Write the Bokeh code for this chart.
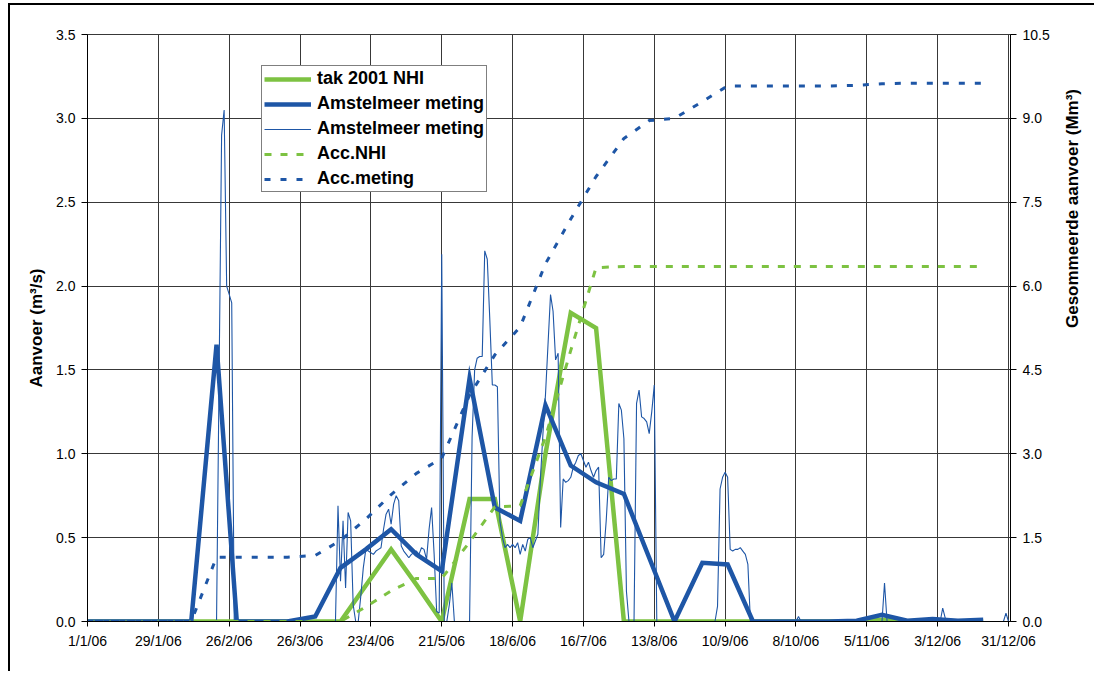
import math
import pandas as pd
from bokeh.plotting import figure
from bokeh.models import (Range1d, LinearAxis, FixedTicker, NumeralTickFormatter,
                          Legend, LegendItem)
from bokeh.embed import file_html
from bokeh.resources import INLINE

# ---------------- data ----------------
DEC_DATES = ["2006-01-01", "2006-01-11", "2006-01-21", "2006-02-01", "2006-02-11", "2006-02-21",
             "2006-03-01", "2006-03-11", "2006-03-21", "2006-04-01", "2006-04-11", "2006-04-21",
             "2006-05-01", "2006-05-11", "2006-05-21", "2006-06-01", "2006-06-11", "2006-06-21",
             "2006-07-01", "2006-07-11", "2006-07-21", "2006-08-01", "2006-08-11", "2006-08-21",
             "2006-09-01", "2006-09-11", "2006-09-21", "2006-10-01", "2006-10-11", "2006-10-21",
             "2006-11-01", "2006-11-11", "2006-11-21", "2006-12-01", "2006-12-11", "2006-12-21"]

# tak 2001 NHI (m3/s)
NHI = [0, 0, 0, 0, 0, 0,
       0, 0, 0, 0, 0, 0.215,
       0.43, 0.22, 0, 0.73, 0.73, 0,
       1.0, 1.84, 1.75, 0, 0, 0,
       0, 0, 0, 0, 0, 0,
       0, 0.01, 0, 0, 0, 0]

# Amstelmeer meting, decade values (m3/s)
MET = [0, 0, 0, 0, 0, 1.65,
       0, 0, 0, 0.03, 0.32, 0.43,
       0.55, 0.40, 0.30, 1.45, 0.68, 0.60,
       1.29, 0.93, 0.83, 0.76, 0.38, 0,
       0.35, 0.34, 0, 0, 0, 0,
       0.005, 0.04, 0.005, 0.015, 0.005, 0.01]

# Acc.NHI (Mm3)
ACC_NHI = [0, 0, 0, 0, 0, 0,
           0, 0, 0, 0, 0, 0.26,
           0.55, 0.77, 0.77, 1.42, 2.05, 2.07,
           3.3, 4.85, 6.33, 6.35, 6.35, 6.35,
           6.35, 6.35, 6.35, 6.35, 6.35, 6.35,
           6.35, 6.35, 6.35, 6.35, 6.35, 6.35]

# Acc.meting (Mm3)
ACC_MET = [0, 0, 0, 0, 0, 1.15,
           1.15, 1.15, 1.15, 1.18, 1.45, 1.83,
           2.27, 2.65, 2.92, 4.05, 4.77, 5.27,
           6.4, 7.2, 7.96, 8.64, 8.96, 9.0,
           9.3, 9.58, 9.58, 9.58, 9.58, 9.58,
           9.59, 9.62, 9.63, 9.63, 9.63, 9.63]

# Amstelmeer meting, daily values (m3/s)
THIN_DATES = ["2006-01-01", "2006-02-21", "2006-02-22", "2006-02-23", "2006-02-24", "2006-02-25",
              "2006-02-26", "2006-02-27", "2006-02-28", "2006-04-09", "2006-04-10", "2006-04-11",
              "2006-04-12", "2006-04-13", "2006-04-14", "2006-04-15", "2006-04-16", "2006-04-17",
              "2006-04-18", "2006-04-19", "2006-04-20", "2006-04-21", "2006-04-22", "2006-04-23",
              "2006-04-24", "2006-04-25", "2006-04-26", "2006-04-27", "2006-04-28", "2006-04-29",
              "2006-04-30", "2006-05-01", "2006-05-02", "2006-05-03", "2006-05-04", "2006-05-05",
              "2006-05-06", "2006-05-07", "2006-05-08", "2006-05-09", "2006-05-10", "2006-05-11",
              "2006-05-12", "2006-05-13", "2006-05-14", "2006-05-15", "2006-05-16", "2006-05-17",
              "2006-05-18", "2006-05-19", "2006-05-20", "2006-05-21", "2006-05-22", "2006-05-23",
              "2006-05-24", "2006-05-25", "2006-05-26", "2006-06-01", "2006-06-02", "2006-06-03",
              "2006-06-04", "2006-06-05", "2006-06-06", "2006-06-07", "2006-06-08", "2006-06-09",
              "2006-06-10", "2006-06-11", "2006-06-12", "2006-06-13", "2006-06-14", "2006-06-15",
              "2006-06-16", "2006-06-17", "2006-06-18", "2006-06-19", "2006-06-20", "2006-06-21",
              "2006-06-22", "2006-06-23", "2006-06-24", "2006-06-25", "2006-06-26", "2006-06-27",
              "2006-06-28", "2006-06-29", "2006-06-30", "2006-07-01", "2006-07-02", "2006-07-03",
              "2006-07-04", "2006-07-05", "2006-07-06", "2006-07-07", "2006-07-08", "2006-07-09",
              "2006-07-10", "2006-07-11", "2006-07-12", "2006-07-13", "2006-07-14", "2006-07-15",
              "2006-07-16", "2006-07-17", "2006-07-18", "2006-07-19", "2006-07-20", "2006-07-21",
              "2006-07-22", "2006-07-23", "2006-07-24", "2006-07-25", "2006-07-26", "2006-07-27",
              "2006-07-28", "2006-07-29", "2006-07-30", "2006-07-31", "2006-08-01", "2006-08-02",
              "2006-08-03", "2006-08-05", "2006-08-06", "2006-08-07", "2006-08-08", "2006-08-09",
              "2006-08-10", "2006-08-11", "2006-08-12", "2006-08-13", "2006-08-14", "2006-09-06",
              "2006-09-07", "2006-09-08", "2006-09-09", "2006-09-10", "2006-09-11", "2006-09-12",
              "2006-09-13", "2006-09-14", "2006-09-15", "2006-09-16", "2006-09-17", "2006-09-18",
              "2006-09-19", "2006-09-20", "2006-10-08", "2006-10-09", "2006-10-10", "2006-11-11",
              "2006-11-12", "2006-11-13", "2006-12-04", "2006-12-05", "2006-12-06", "2006-12-07",
              "2006-12-29", "2006-12-30", "2006-12-31"]
THIN_VALUES = [0, 0, 1.45, 2.9, 3.05, 2.0,
               1.95, 1.9, 0, 0, 0.69, 0.24,
               0.60, 0.20, 0.65, 0.60, 0.10, 0,
               0, 0.15, 0.32, 0.43, 0.42, 0.41,
               0.40, 0.42, 0.43, 0.44, 0.55, 0.64,
               0.67, 0.58, 0.70, 0.75, 0.72, 0.45,
               0.42, 0.40, 0.38, 0.40, 0.41, 0.42,
               0.40, 0.44, 0.43, 0.37, 0.55, 0.68,
               0.40, 0.06, 0.05, 2.19, 0, 0,
               0.10, 0.23, 0, 0, 1.10, 1.50,
               1.57, 1.58, 1.58, 2.21, 2.16, 1.80,
               1.41, 1.41, 1.40, 0.60, 0.50, 0.44,
               0.46, 0.44, 0.46, 0.44, 0.47, 0.40,
               0.46, 0.42, 0.49, 0.50, 0.44, 0.48,
               0.52, 0.85, 1.12, 1.35, 1.65, 1.95,
               1.85, 1.56, 1.60, 0.56, 0.85, 0.83,
               0.84, 0.86, 0.92, 0.95, 0.99, 1.00,
               0.96, 0.92, 0.95, 0.90, 0.86, 0.90,
               0.92, 0.38, 0.40, 0.60, 0.86, 0.84,
               0.85, 0.85, 1.30, 1.26, 1.09, 0.18,
               0, 0, 1.30, 1.38, 1.22, 1.21,
               1.19, 1.12, 1.25, 1.41, 0, 0,
               0.09, 0.79, 0.86, 0.89, 0.86, 0.43,
               0.42, 0.43, 0.43, 0.44, 0.42, 0.40,
               0.34, 0, 0, 0.03, 0, 0,
               0.23, 0, 0, 0.08, 0.02, 0,
               0, 0.05, 0]

TICK_DATES = ["2006-01-01", "2006-01-29", "2006-02-26", "2006-03-26", "2006-04-23", "2006-05-21",
              "2006-06-18", "2006-07-16", "2006-08-13", "2006-09-10", "2006-10-08", "2006-11-05",
              "2006-12-03", "2006-12-31"]
TICK_LABELS = ["1/1/06", "29/1/06", "26/2/06", "26/3/06", "23/4/06", "21/5/06", "18/6/06",
               "16/7/06", "13/8/06", "10/9/06", "8/10/06", "5/11/06", "3/12/06", "31/12/06"]
LEFT_TICKS = [0, 0.5, 1.0, 1.5, 2.0, 2.5, 3.0, 3.5]
RIGHT_TICKS = [0, 1.5, 3.0, 4.5, 6.0, 7.5, 9.0, 10.5]

# ---------------- style ----------------
GREEN = "#7DC242"
BLUE = "#1E56A6"
GRID = "#383838"
FONT = "Liberation Sans"

dec_x = pd.to_datetime(DEC_DATES)
thin_x = pd.to_datetime(THIN_DATES)
tick_ms = [float(pd.Timestamp(d).value // 10**6) for d in TICK_DATES]

p = figure(width=1086, height=668, x_axis_type="datetime",
           x_range=Range1d(pd.Timestamp("2006-01-01"), pd.Timestamp("2006-12-31 19:00")),
           y_range=Range1d(0, 3.5),
           output_backend="svg", toolbar_location=None,
           min_border_left=77, min_border_right=86, min_border_top=29, min_border_bottom=52,
           margin=(3, 0, 0, 8),
           styles={"border-top": "2px solid black", "border-left": "2px solid black"})
p.outline_line_color = GRID
p.background_fill_color = "white"
p.border_fill_color = "white"
p.extra_y_ranges = {"acc": Range1d(0, 10.5)}

# x axis
xa = p.xaxis[0]
xa.ticker = FixedTicker(ticks=tick_ms)
xa.major_label_overrides = {t: l for t, l in zip(tick_ms, TICK_LABELS)}
xa.major_tick_out = 5
xa.major_tick_in = 0
xa.minor_tick_out = 0
xa.minor_tick_in = 0
xa.major_label_standoff = 6
xa.major_label_text_font = FONT
xa.major_label_text_font_size = "14px"
xa.major_label_text_color = "black"
xa.axis_line_color = "black"
xa.major_tick_line_color = "black"

# left axis
ya = p.yaxis[0]
ya.ticker = FixedTicker(ticks=LEFT_TICKS)
ya.formatter = NumeralTickFormatter(format="0.0")
ya.axis_label = "Aanvoer (m³/s)"
ya.axis_label_text_font = FONT
ya.axis_label_text_font_size = "17px"
ya.axis_label_text_font_style = "bold"
ya.axis_label_text_color = "black"
ya.axis_label_standoff = 7
ya.major_tick_out = 6
ya.major_tick_in = 0
ya.minor_tick_out = 0
ya.minor_tick_in = 0
ya.major_label_standoff = 6
ya.major_label_text_font = FONT
ya.major_label_text_font_size = "14px"
ya.major_label_text_color = "black"
ya.axis_line_color = "black"

# right axis
ra = LinearAxis(y_range_name="acc", ticker=FixedTicker(ticks=RIGHT_TICKS),
                formatter=NumeralTickFormatter(format="0.0"))
ra.axis_label = "Gesommeerde aanvoer (Mm³)"
ra.axis_label_orientation = math.pi / 2
ra.axis_label_text_font = FONT
ra.axis_label_text_font_size = "17px"
ra.axis_label_text_font_style = "bold"
ra.axis_label_text_color = "black"
ra.axis_label_standoff = 20
ra.major_tick_out = 6
ra.major_tick_in = 0
ra.minor_tick_out = 0
ra.minor_tick_in = 0
ra.major_label_standoff = 6
ra.major_label_text_font = FONT
ra.major_label_text_font_size = "14px"
ra.major_label_text_color = "black"
ra.axis_line_color = "black"
p.add_layout(ra, "right")

p.xgrid.grid_line_color = GRID
p.ygrid.grid_line_color = GRID
p.xgrid.grid_line_width = 1
p.ygrid.grid_line_width = 1

# ---------------- series ----------------
r_nhi = p.line(dec_x, NHI, line_color=GREEN, line_width=4.5, line_join="miter")
r_met = p.line(dec_x, MET, line_color=BLUE, line_width=4.5, line_join="miter")
r_thin = p.line(thin_x, THIN_VALUES, line_color=BLUE, line_width=1.1)
r_acc_nhi = p.line(dec_x, ACC_NHI, y_range_name="acc", line_color=GREEN, line_width=3,
                   line_dash="7 9")
r_acc_met = p.line(dec_x, ACC_MET, y_range_name="acc", line_color=BLUE, line_width=3,
                   line_dash="6 10")

legend = Legend(items=[
    LegendItem(label="tak 2001 NHI", renderers=[r_nhi]),
    LegendItem(label="Amstelmeer meting", renderers=[r_met]),
    LegendItem(label="Amstelmeer meting", renderers=[r_thin]),
    LegendItem(label="Acc.NHI", renderers=[r_acc_nhi]),
    LegendItem(label="Acc.meting", renderers=[r_acc_met]),
], location=(174, 429))
legend.label_text_font = FONT
legend.label_text_font_size = "18px"
legend.label_text_font_style = "bold"
legend.label_text_color = "black"
legend.border_line_color = "black"
legend.border_line_width = 1
legend.background_fill_color = "white"
legend.background_fill_alpha = 1
legend.glyph_width = 47
legend.glyph_height = 20
legend.label_height = 20
legend.spacing = 4
legend.padding = 2
legend.margin = 0
legend.label_standoff = 6
p.add_layout(legend)

open("out.html", "w").write(file_html(p, INLINE))
